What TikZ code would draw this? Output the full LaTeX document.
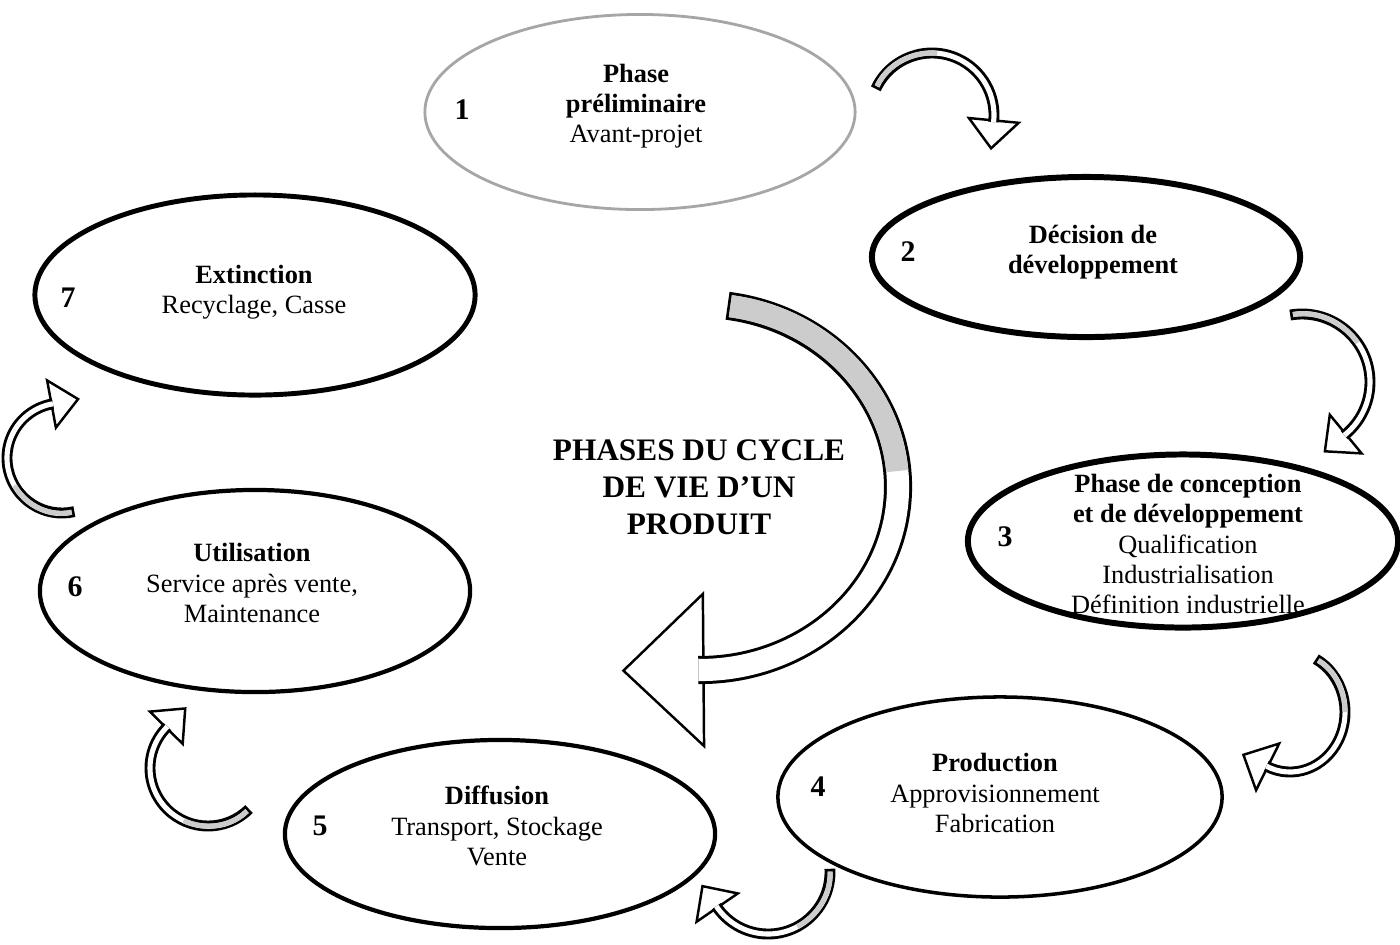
\documentclass[tikz,border=0pt]{standalone}
\usepackage{fontspec}
\setmainfont{Liberation Serif}
\usetikzlibrary{shapes.geometric,calc}
\newcommand\phasefont{\fontsize{7.5}{8.6}\selectfont}
\newcommand\numfont{\fontsize{8.5}{10}\selectfont\bfseries}
\newcommand\titlefont{\fontsize{8.9}{10.5}\selectfont\bfseries}
\tikzset{
  phase/.style={ellipse,draw,line width=#1,inner sep=0pt,minimum width=4.3cm},
  phase/.default=1.5pt,
  txt/.style={align=center,font=\phasefont,inner sep=0pt},
  num/.style={font=\numfont,inner sep=0pt},
  headshape/.style={fill=white,draw,line width=0.7pt},
  band outer/.style={line width=3.1pt},
  band inner/.style={line width=1.45pt},
  greytail/.style={gray!40},
}
% curved band arrow: centre, x radius, y radius, start, end of grey tail, end, head length, head half width
\newcommand\cyclearrow[8]{%
  \coordinate (base) at ($(#1)+(#6:#2 and #3)$);
  \coordinate (next) at ($(#1)+(#6+1:#2 and #3)$);
  \filldraw[headshape] ($(base)!#8!90:(next)$) -- ($(base)!#7!(next)$)
    -- ($(base)!#8!-90:(next)$) -- cycle;
  \draw[band outer] ($(#1)+(#4:#2 and #3)$)
    arc[start angle=#4,end angle=#6+1.5,x radius=#2,y radius=#3];
  \draw[band inner,white,shorten <=0.8pt] ($(#1)+(#4:#2 and #3)$)
    arc[start angle=#4,end angle=#6+1.5,x radius=#2,y radius=#3];
  \draw[band inner,greytail,shorten <=0.8pt] ($(#1)+(#4:#2 and #3)$)
    arc[start angle=#4,end angle=#5,x radius=#2,y radius=#3];
}

\begin{document}
\begin{tikzpicture}[x=0.01cm,y=-0.01cm]
  \useasboundingbox (0,0) rectangle (1400,944);
  % the seven phases
  \node[phase=0.8pt,draw=gray!70,minimum height=1.95cm] (pre) at (640,112) {};
  \node[phase=1.7pt,minimum width=4.28cm,minimum height=1.6cm] (dec) at (1086,257) {};
  \node[phase=1.7pt,minimum height=1.73cm] (conc) at (1183,541) {};
  \node[phase=1pt,minimum width=4.44cm,minimum height=2cm] (prod) at (1000,797) {};
  \node[phase=1.2pt,minimum height=1.88cm] (diff) at (500,834) {};
  \node[phase=1.2pt,minimum height=2.02cm] (util) at (255,591) {};
  \node[phase=1.4pt,minimum width=4.4cm,minimum height=2cm] (ext) at (255,295) {};
  \node[txt] (pre t) at (636,106) {\textbf{Phase}\\\textbf{préliminaire}\\Avant-projet};
  \node[txt] (dec t) at (1093,252) {\textbf{Décision de}\\\textbf{développement}};
  \node[txt] (conc t) at (1188,544) {\textbf{Phase de conception}\\\textbf{et de développement}\\Qualification\\Industrialisation\\Définition industrielle};
  \node[txt] (prod t) at (995,793) {\textbf{Production}\\Approvisionnement\\Fabrication};
  \node[txt] (diff t) at (497,826) {\textbf{Diffusion}\\Transport, Stockage\\Vente};
  \node[txt] (util t) at (252,583) {\textbf{Utilisation}\\Service après vente,\\Maintenance};
  \node[txt] (ext t) at (254,292) {\textbf{Extinction}\\Recyclage, Casse};
  \node[num] (n1) at (462,110) {1};
  \node[num] (n2) at (908,252) {2};
  \node[num] (n3) at (1005,537) {3};
  \node[num] (n4) at (818,787) {4};
  \node[num] (n5) at (320,826) {5};
  \node[num] (n6) at (75,587) {6};
  \node[num] (n7) at (68,298) {7};
  \node[align=center,font=\titlefont] (title) at (699,487) {PHASES DU CYCLE\\DE VIE D'UN\\PRODUIT};
  % arrows between phases
  \coordinate (c12) at (932,115);
  \cyclearrow{c12}{62}{62}{205}{275}{365}{0.28cm}{0.25cm}
  \coordinate (c23) at (1302,382);
  \cyclearrow{c23}{68}{68}{260}{325}{410}{0.27cm}{0.25cm}
  \coordinate (c34) at (1290,712);
  \cyclearrow{c34}{55}{60}{-62}{0}{114}{0.27cm}{0.26cm}
  \coordinate (c45) at (768,872);
  \cyclearrow{c45}{62}{62}{-3}{62}{145}{0.26cm}{0.25cm}
  \coordinate (c56) at (208,768);
  \cyclearrow{c56}{58}{58}{45}{115}{224}{0.27cm}{0.23cm}
  \coordinate (c67) at (62,458);
  \cyclearrow{c67}{55}{55}{77}{150}{259}{0.27cm}{0.24cm}
  % big arrow in the middle
  \coordinate (cbig) at (700,487);
  \begin{scope}[band outer/.style={line width=8pt},band inner/.style={line width=6.3pt}]
    \cyclearrow{cbig}{198}{183}{-82}{-5}{89}{0.8cm}{0.76cm}
  \end{scope}
\end{tikzpicture}
\end{document}
